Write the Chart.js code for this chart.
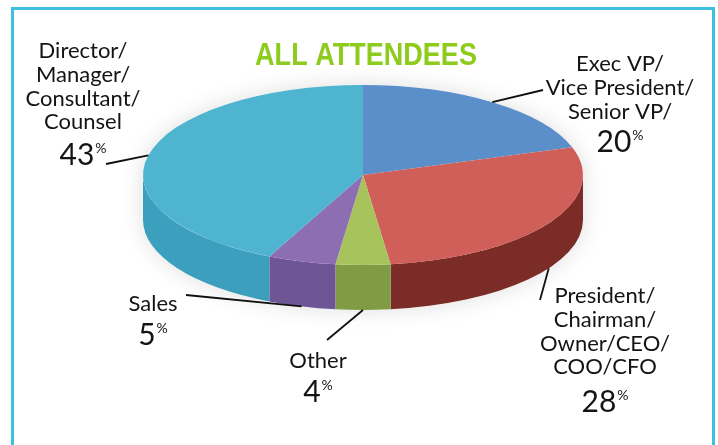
<!DOCTYPE html>
<html>
<head>
<meta charset="utf-8">
<script src="https://cdn.jsdelivr.net/npm/chart.js@4.4.1/dist/chart.umd.min.js"></script>
<style>
  html, body { margin: 0; padding: 0; background: #fff; }
  #wrap { position: relative; width: 718px; height: 445px; overflow: hidden; }
  #frame { position: absolute; left: 11px; top: 7px; width: 704px; height: 470px; border: 3px solid #3dbfe0; box-sizing: border-box; }
  canvas { position: absolute; left: 0; top: 0; }
</style>
</head>
<body>
<div id="wrap">
  <div id="frame"></div>
  <canvas id="pie" width="718" height="445"></canvas>
</div>
<script>
// slices go clockwise from 12 o'clock
const categories = [
  ['Exec VP/', 'Vice President/', 'Senior VP/'],
  ['President/', 'Chairman/', 'Owner/CEO/', 'COO/CFO'],
  ['Other'],
  ['Sales'],
  ['Director/', 'Manager/', 'Consultant/', 'Counsel']
];
const percents = [20, 28, 4, 5, 43];
const chartTitle = 'ALL ATTENDEES';
const topColors = ['#5b8fca', '#cf5f58', '#a7c35b', '#8d6eb3', '#4fb4d0'];
const sideColors = ['#3f6e9e', '#7b2c27', '#7f9b44', '#6e5596', '#3c9fbd'];

// where the squashed pie sits on the page
const pieCenterX = 363, pieCenterY = 175;
const pieRadiusX = 220, pieRadiusY = 90;
const pieDepth = 45;

// label boxes: center x, y of first line, y of the percentage, leader outer end
const labelSpots = [
  { x: 620, y: 64,  py: 142, lx: 543, ly: 90 },
  { x: 605, y: 296, py: 402, lx: 540, ly: 300 },
  { x: 318, y: 361, py: 392, lx: 327, ly: 340 },
  { x: 153, y: 304, py: 335, lx: 186, ly: 295 },
  { x: 83,  y: 51,  py: 155, lx: 106, ly: 164 }
];
const lineGap = 23.8;
const textFont = 'Lato, "Noto Sans", sans-serif';

function pieGeom(chart) {
  const arc = chart.getDatasetMeta(0).data[0];
  return { x: arc.x, y: arc.y, r: arc.outerRadius };
}

function rimPoint(angle, drop) {
  return {
    x: pieCenterX + Math.cos(angle) * pieRadiusX,
    y: pieCenterY + Math.sin(angle) * pieRadiusY + drop
  };
}

const pie3d = {
  id: 'pie3d',
  beforeDatasetsDraw(chart) {
    const ctx = chart.ctx;
    const arcs = chart.getDatasetMeta(0).data;
    const g = pieGeom(chart);
    const drop = pieDepth * g.r / pieRadiusY;

    // flatten the chart.js pie into an ellipse
    ctx.save();
    ctx.translate(pieCenterX, pieCenterY);
    ctx.scale(pieRadiusX / g.r, pieRadiusY / g.r);
    ctx.translate(-g.x, -g.y);

    // soft halo under the pie
    ctx.save();
    ctx.shadowColor = 'rgba(0,0,0,0.13)';
    ctx.shadowBlur = 22;
    ctx.fillStyle = '#fff';
    ctx.beginPath();
    ctx.arc(g.x, g.y, g.r, Math.PI, 0);
    ctx.arc(g.x, g.y + drop, g.r, 0, Math.PI);
    ctx.closePath();
    ctx.fill();
    ctx.restore();

    // the wall: only the front half (0..PI) shows
    arcs.forEach((arc, i) => {
      const a1 = Math.max(arc.startAngle, 0);
      const a2 = Math.min(arc.endAngle, Math.PI);
      if (a2 <= a1) return;
      ctx.beginPath();
      ctx.arc(g.x, g.y, g.r, a1, a2);
      ctx.arc(g.x, g.y + drop, g.r, a2, a1, true);
      ctx.closePath();
      ctx.fillStyle = sideColors[i];
      ctx.fill();
    });
    // transform stays on while chart.js draws the top face
  },
  afterDatasetsDraw(chart) {
    chart.ctx.restore();
  },
  afterDraw(chart) {
    const ctx = chart.ctx;
    const arcs = chart.getDatasetMeta(0).data;

    // title, squeezed to look condensed
    ctx.save();
    ctx.fillStyle = '#8dcb1c';
    ctx.font = 'bold 32px "Liberation Sans", Arial, sans-serif';
    ctx.textAlign = 'center';
    ctx.textBaseline = 'alphabetic';
    ctx.translate(366, 65);
    ctx.scale(0.845, 1);
    ctx.fillText(chartTitle, 0, 0);
    ctx.restore();

    ctx.save();
    ctx.strokeStyle = '#111';
    ctx.lineWidth = 1.8;
    arcs.forEach((arc, i) => {
      const mid = (arc.startAngle + arc.endAngle) / 2;
      const front = Math.sin(mid) > 0;
      const p = rimPoint(mid, front ? pieDepth : 0);
      const s = labelSpots[i];
      ctx.beginPath();
      ctx.moveTo(p.x, p.y);
      ctx.lineTo(s.lx, s.ly);
      ctx.stroke();
    });

    ctx.fillStyle = '#141414';
    ctx.textBaseline = 'middle';
    categories.forEach((lines, i) => {
      const s = labelSpots[i];
      ctx.textAlign = 'center';
      ctx.font = '22px ' + textFont;
      lines.forEach((line, j) => ctx.fillText(line, s.x, s.y + j * lineGap));

      // number with a small raised percent sign
      const num = String(percents[i]);
      ctx.font = '30px ' + textFont;
      const wNum = ctx.measureText(num).width;
      ctx.font = '14px ' + textFont;
      const wPct = ctx.measureText('%').width;
      const left = s.x - (wNum + wPct + 1) / 2;
      ctx.textAlign = 'left';
      ctx.font = '30px ' + textFont;
      ctx.fillText(num, left, s.py);
      ctx.font = '14px ' + textFont;
      ctx.fillText('%', left + wNum + 1, s.py - 7);
    });
    ctx.restore();
  }
};

new Chart(document.getElementById('pie'), {
  type: 'pie',
  data: {
    labels: categories.map(c => c.join(' ')),
    datasets: [{
      data: percents,
      backgroundColor: topColors,
      borderWidth: 0
    }]
  },
  options: {
    responsive: false,
    animation: false,
    events: [],
    plugins: {
      legend: { display: false },
      tooltip: { enabled: false },
      title: { display: false }
    }
  },
  plugins: [pie3d]
});
</script>
</body>
</html>
